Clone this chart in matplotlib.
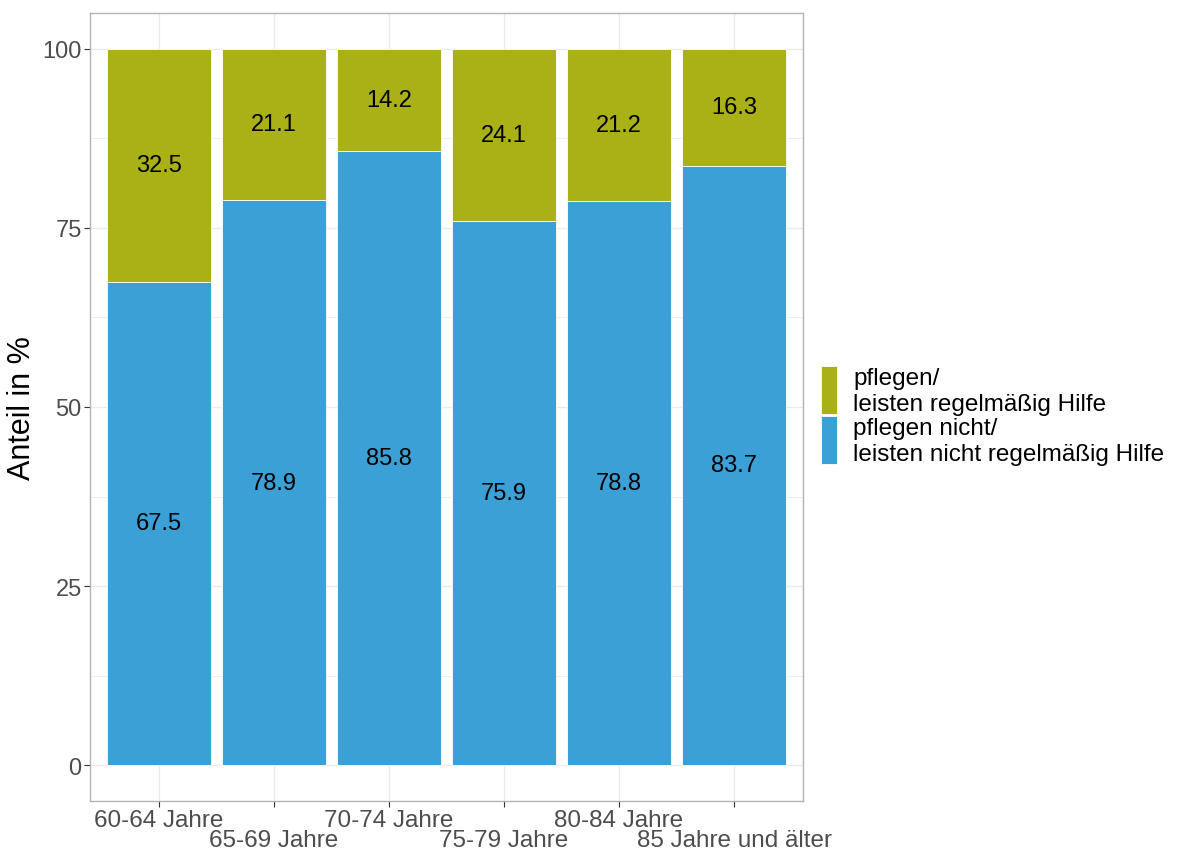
import matplotlib
matplotlib.use("Agg")
import matplotlib.pyplot as plt
from matplotlib.patches import Rectangle
from matplotlib.ticker import MultipleLocator
import numpy as np

categories = ["60-64 Jahre", "65-69 Jahre", "70-74 Jahre", "75-79 Jahre",
              "80-84 Jahre", "85 Jahre und älter"]
nicht_pflegen = [67.5, 78.9, 85.8, 75.9, 78.8, 83.7]
pflegen = [32.5, 21.1, 14.2, 24.1, 21.2, 16.3]
legend_labels = ["pflegen/\nleisten regelmäßig Hilfe",
                 "pflegen nicht/\nleisten nicht regelmäßig Hilfe"]
y_ticks = [0, 25, 50, 75, 100]

col_green = "#A9B116"
col_blue = "#3BA0D6"
grid_col = "#EBEBEB"
axis_grey = "#4D4D4D"

plt.rcParams['font.family'] = ['Liberation Sans', 'DejaVu Sans']

fig = plt.figure(figsize=(11.77, 8.53), dpi=100)
ax = fig.add_axes([90/1177, 1-802/853, (803-90)/1177, (802-14)/853])

x = np.arange(len(categories))
ax.bar(x, nicht_pflegen, width=0.9, color=col_blue, edgecolor="white", linewidth=0.6, zorder=3)
ax.bar(x, pflegen, bottom=nicht_pflegen, width=0.9, color=col_green, edgecolor="white",
       linewidth=0.6, zorder=3)

for xi, b, t in zip(x, nicht_pflegen, pflegen):
    ax.text(xi, b / 2, f"{b:.1f}", ha="center", va="center", fontsize=17, color="black", zorder=4)
    ax.text(xi, b + t / 2, f"{t:.1f}", ha="center", va="center", fontsize=17, color="black", zorder=4)

ax.set_xlim(-0.6, len(categories) - 0.4)
ax.set_ylim(-5, 105)
ax.set_yticks(y_ticks)
ax.set_yticklabels([str(v) for v in y_ticks])
ax.yaxis.set_minor_locator(MultipleLocator(12.5))
ax.set_xticks(x)
ax.set_xticklabels(categories)

ax.grid(which="major", color=grid_col, linewidth=1.0, zorder=0)
ax.grid(which="minor", axis="y", color=grid_col, linewidth=0.6, zorder=0)
ax.set_axisbelow(True)
ax.tick_params(which="minor", length=0)
ax.tick_params(which="major", length=4, width=0.8, color="#333333", labelcolor=axis_grey)
ax.tick_params(axis="y", labelsize=17, pad=2)
ax.tick_params(axis="x", labelsize=17.5, pad=2)
for i, tk in enumerate(ax.xaxis.get_major_ticks()):
    if i % 2 == 1:
        tk.set_pad(16.5)

for sp in ax.spines.values():
    sp.set_color("#B3B3B3")
    sp.set_linewidth(1.0)

ax.set_ylabel("Anteil in %", fontsize=22, color="black", labelpad=4)

# legend drawn manually in figure coordinates
W, H = 1177, 853
keys = [(col_green, 367, legend_labels[0]), (col_blue, 417, legend_labels[1])]
for col, ytop, lab in keys:
    fig.patches.append(Rectangle((821/W, 1 - (ytop + 48)/H), 16/W, 48/H,
                                 transform=fig.transFigure, facecolor=col,
                                 edgecolor="white", linewidth=0.6))
    fig.text(853/W, 1 - (ytop + 25)/H, lab, ha="left", va="center", fontsize=17.5,
             color="black", linespacing=1.25)

fig.savefig("out.png", dpi=100, facecolor="white")
